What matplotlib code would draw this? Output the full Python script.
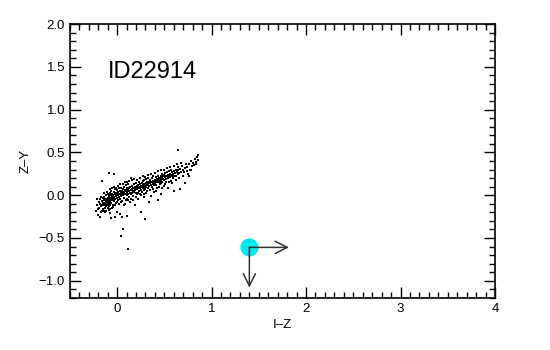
import matplotlib
matplotlib.use("Agg")
import matplotlib.pyplot as plt
from matplotlib.ticker import MultipleLocator

# colour-colour cloud (I-Z, Z-Y)
iz = [-0.22, -0.21, -0.20, -0.19, -0.19, -0.18, -0.18, -0.17, -0.17, -0.16, -0.16, -0.15, -0.15, -0.15,
      -0.14, -0.14, -0.14, -0.13, -0.13, -0.13, -0.12, -0.12, -0.12, -0.12, -0.11, -0.11, -0.11, -0.10, -0.10, -0.10, -0.10, -0.10,
      -0.09, -0.09, -0.09, -0.08, -0.08, -0.08, -0.08, -0.07, -0.07, -0.07, -0.07, -0.06, -0.06, -0.06, -0.05, -0.05, -0.05, -0.05,
      -0.04, -0.04, -0.04, -0.03, -0.03, -0.03, -0.02, -0.02, -0.02, -0.01, -0.01, -0.01, 0.00, 0.00, 0.00, 0.00,
      0.01, 0.01, 0.01, 0.02, 0.02, 0.02, 0.03, 0.03, 0.03, 0.04, 0.04, 0.04, 0.05, 0.05, 0.05, 0.05,
      0.06, 0.06, 0.06, 0.07, 0.07, 0.07, 0.08, 0.08, 0.08, 0.09, 0.09, 0.09, 0.10, 0.10, 0.10, 0.10,
      0.11, 0.11, 0.11, 0.12, 0.12, 0.12, 0.13, 0.13, 0.13, 0.14, 0.14, 0.14, 0.15, 0.15, 0.15,
      0.16, 0.16, 0.16, 0.17, 0.17, 0.17, 0.18, 0.18, 0.18, 0.19, 0.19, 0.19, 0.20, 0.20, 0.20,
      0.21, 0.21, 0.21, 0.22, 0.22, 0.22, 0.23, 0.23, 0.23, 0.24, 0.24, 0.24, 0.25, 0.25, 0.25,
      0.26, 0.26, 0.26, 0.27, 0.27, 0.27, 0.28, 0.28, 0.28, 0.29, 0.29, 0.29, 0.30, 0.30, 0.30,
      0.31, 0.31, 0.31, 0.32, 0.32, 0.32, 0.33, 0.33, 0.33, 0.34, 0.34, 0.34, 0.35, 0.35,
      0.36, 0.36, 0.36, 0.37, 0.37, 0.37, 0.38, 0.38, 0.38, 0.39, 0.39, 0.39, 0.40, 0.40,
      0.41, 0.41, 0.41, 0.42, 0.42, 0.42, 0.43, 0.43, 0.43, 0.44, 0.44, 0.45, 0.45,
      0.46, 0.46, 0.46, 0.47, 0.47, 0.47, 0.48, 0.48, 0.48, 0.49, 0.49, 0.50, 0.50, 0.50,
      0.51, 0.51, 0.52, 0.52, 0.52, 0.53, 0.53, 0.54, 0.54, 0.54, 0.55, 0.55,
      0.56, 0.56, 0.57, 0.57, 0.57, 0.58, 0.58, 0.59, 0.59, 0.60, 0.60, 0.60,
      0.61, 0.62, 0.62, 0.63, 0.64, 0.64, 0.65, 0.65, 0.66, 0.67, 0.67, 0.68, 0.69, 0.70, 0.70,
      0.72, 0.72, 0.73, 0.74, 0.75, 0.76, 0.77, 0.78, 0.79, 0.80, 0.82, 0.83, 0.85, 0.86, 0.86,
      -0.16, -0.09, -0.03, -0.14, -0.06, -0.02, 0.03, 0.10, 0.065, 0.04, 0.12,
      -0.21, -0.20, -0.18, -0.17, -0.16, -0.14, -0.13, -0.12, -0.11, -0.09, -0.08, -0.07, -0.06, -0.05,
      -0.04, -0.03, -0.02, -0.01, 0.00, 0.01, 0.02, 0.03, 0.04, 0.06, 0.07, 0.08, 0.09, 0.11, 0.12,
      0.13, 0.15, 0.16, 0.17, 0.18, 0.20, 0.21, 0.22, 0.24, 0.25, 0.27, 0.28, 0.30, 0.31, 0.33,
      0.35, 0.36, 0.38, 0.40, 0.41, 0.43, 0.44, 0.46, 0.48, 0.50, 0.51, 0.53, 0.55, 0.56, 0.58,
      0.60, 0.62, 0.63, 0.66, 0.68, 0.71, 0.74, 0.76, 0.78, 0.81, 0.84]
zy = [-0.18, -0.12, -0.23, -0.08, -0.15, -0.10, -0.05, -0.13, -0.20, -0.07, -0.11, -0.16, -0.03, -0.09,
      -0.12, -0.06, -0.02, -0.09, -0.15, -0.04, -0.10, -0.07, -0.18, 0.00, -0.05, -0.12, -0.08, -0.03, -0.10, -0.15, 0.02, -0.06,
      -0.08, -0.01, -0.13, -0.05, 0.03, -0.10, -0.21, -0.03, -0.07, 0.01, -0.12, -0.04, 0.05, -0.09, -0.02, -0.06, 0.02, -0.15,
      0.00, -0.04, -0.11, 0.04, -0.02, -0.07, 0.01, -0.05, 0.07, -0.01, 0.03, -0.09, 0.02, -0.03, 0.06, -0.20,
      0.00, 0.04, -0.06, 0.02, 0.08, -0.02, 0.05, -0.04, 0.01, 0.03, 0.09, -0.01, 0.05, -0.07, 0.02, -0.26,
      0.00, 0.07, 0.03, 0.04, -0.03, 0.10, 0.02, 0.06, -0.10, 0.05, 0.01, 0.12, 0.03, 0.07, -0.05, -0.24,
      0.04, 0.09, 0.00, 0.06, 0.02, 0.13, 0.05, -0.02, 0.08, 0.03, 0.10, -0.08, 0.06, 0.01, 0.20,
      0.07, 0.11, 0.03, 0.05, 0.09, -0.01, 0.08, 0.13, 0.04, 0.06, 0.10, -0.12, 0.09, 0.03, 0.14,
      0.07, 0.11, 0.02, 0.08, 0.12, -0.05, 0.10, 0.05, 0.15, 0.09, 0.13, 0.01, 0.11, 0.06, -0.20,
      0.10, 0.14, 0.04, 0.12, 0.08, 0.17, 0.11, 0.06, -0.02, 0.13, 0.09, 0.18, 0.12, 0.07, -0.28,
      0.14, 0.10, 0.19, 0.12, 0.16, 0.05, 0.13, 0.09, 0.20, 0.15, 0.11, -0.08, 0.14, 0.18,
      0.12, 0.16, -0.01, 0.15, 0.20, 0.10, 0.17, 0.13, 0.22, 0.16, 0.12, 0.04, 0.18, 0.14,
      0.17, 0.21, 0.12, 0.15, 0.19, 0.08, 0.18, 0.23, -0.06, 0.16, 0.20, 0.18, 0.13,
      0.19, 0.23, 0.14, 0.17, 0.21, 0.02, 0.20, 0.16, 0.25, 0.19, 0.22, 0.18, 0.24, 0.11,
      0.21, 0.26, 0.19, 0.23, 0.15, 0.22, 0.27, 0.20, 0.24, 0.09, 0.23, 0.28,
      0.21, 0.25, 0.24, 0.30, 0.17, 0.22, 0.27, 0.25, 0.20, 0.28, 0.23, 0.05,
      0.26, 0.30, 0.22, 0.27, 0.33, 0.53, 0.25, 0.29, 0.20, 0.31, 0.07, 0.27, 0.34, 0.29, 0.23,
      0.32, 0.14, 0.37, 0.28, 0.25, 0.36, 0.30, 0.40, 0.34, 0.38, 0.42, 0.36, 0.45, 0.47, 0.41,
      0.17, 0.26, 0.25, -0.19, -0.27, -0.25, -0.22, -0.24, -0.40, -0.48, -0.63,
      -0.05, -0.16, -0.25, -0.02, -0.19, 0.03, -0.20, -0.13, 0.04, -0.17, 0.07, -0.16, 0.00, 0.09,
      -0.14, 0.10, -0.12, 0.08, -0.08, 0.11, -0.10, 0.13, -0.08, 0.13, -0.12, 0.15, -0.06, 0.15, -0.06,
      0.17, -0.04, 0.18, -0.06, 0.19, -0.02, 0.18, 0.03, 0.20, 0.00, 0.22, 0.02, 0.21, 0.03, 0.24,
      0.06, 0.25, 0.07, 0.26, 0.05, 0.28, 0.10, 0.29, 0.09, 0.30, 0.13, 0.32, 0.15, 0.33, 0.14,
      0.34, 0.18, 0.36, 0.26, 0.38, 0.27, 0.33, 0.22, 0.30, 0.35, 0.39]

# target object and its limit arrows
obj_iz = 1.40
obj_zy = -0.61
arrow_right_to = 1.82
arrow_down_to = -1.08
obj_name = "ID22914"

plt.rcParams["font.family"] = ["Liberation Sans", "DejaVu Sans"]

fig = plt.figure(figsize=(5.5, 3.5), dpi=100)
ax = fig.add_axes([0.127, 0.149, 0.773, 0.782])

ax.scatter(iz, zy, s=3.5, c="black", marker="s", linewidths=0)

ax.plot([obj_iz], [obj_zy], "o", color="#00e8f0", markersize=12, zorder=3)
arrow_kw = dict(arrowstyle="->", color="#333333", lw=1.1, mutation_scale=22,
                shrinkA=0, shrinkB=0)
ax.annotate("", xy=(arrow_right_to, obj_zy), xytext=(obj_iz, obj_zy),
            arrowprops=arrow_kw, zorder=4)
ax.annotate("", xy=(obj_iz, arrow_down_to), xytext=(obj_iz, obj_zy),
            arrowprops=arrow_kw, zorder=4)

ax.text(-0.1, 1.44, obj_name, fontsize=17, va="center", ha="left")

ax.set_xlim(-0.5, 4)
ax.set_ylim(-1.2, 2.0)
ax.xaxis.set_major_locator(MultipleLocator(1))
ax.xaxis.set_minor_locator(MultipleLocator(0.1))
ax.yaxis.set_major_locator(MultipleLocator(0.5))
ax.yaxis.set_minor_locator(MultipleLocator(0.1))
ax.tick_params(which="both", direction="in", top=True, right=True, labelsize=9.5)
ax.tick_params(which="major", length=8, width=1)
ax.tick_params(which="minor", length=4, width=1)
ax.set_yticks([-1.0, -0.5, 0.0, 0.5, 1.0, 1.5, 2.0])
ax.set_yticklabels(["\u22121.0", "\u22120.5", "0.0", "0.5", "1.0", "1.5", "2.0"])
ax.set_xticks([0, 1, 2, 3, 4])
ax.set_xticklabels(["0", "1", "2", "3", "4"])
for s in ax.spines.values():
    s.set_linewidth(1.2)

ax.set_xlabel("I\u2013Z", fontsize=9.5, labelpad=3)
ax.set_ylabel("Z\u2013Y", fontsize=9.5, labelpad=5)

fig.savefig("out.png", dpi=100)
